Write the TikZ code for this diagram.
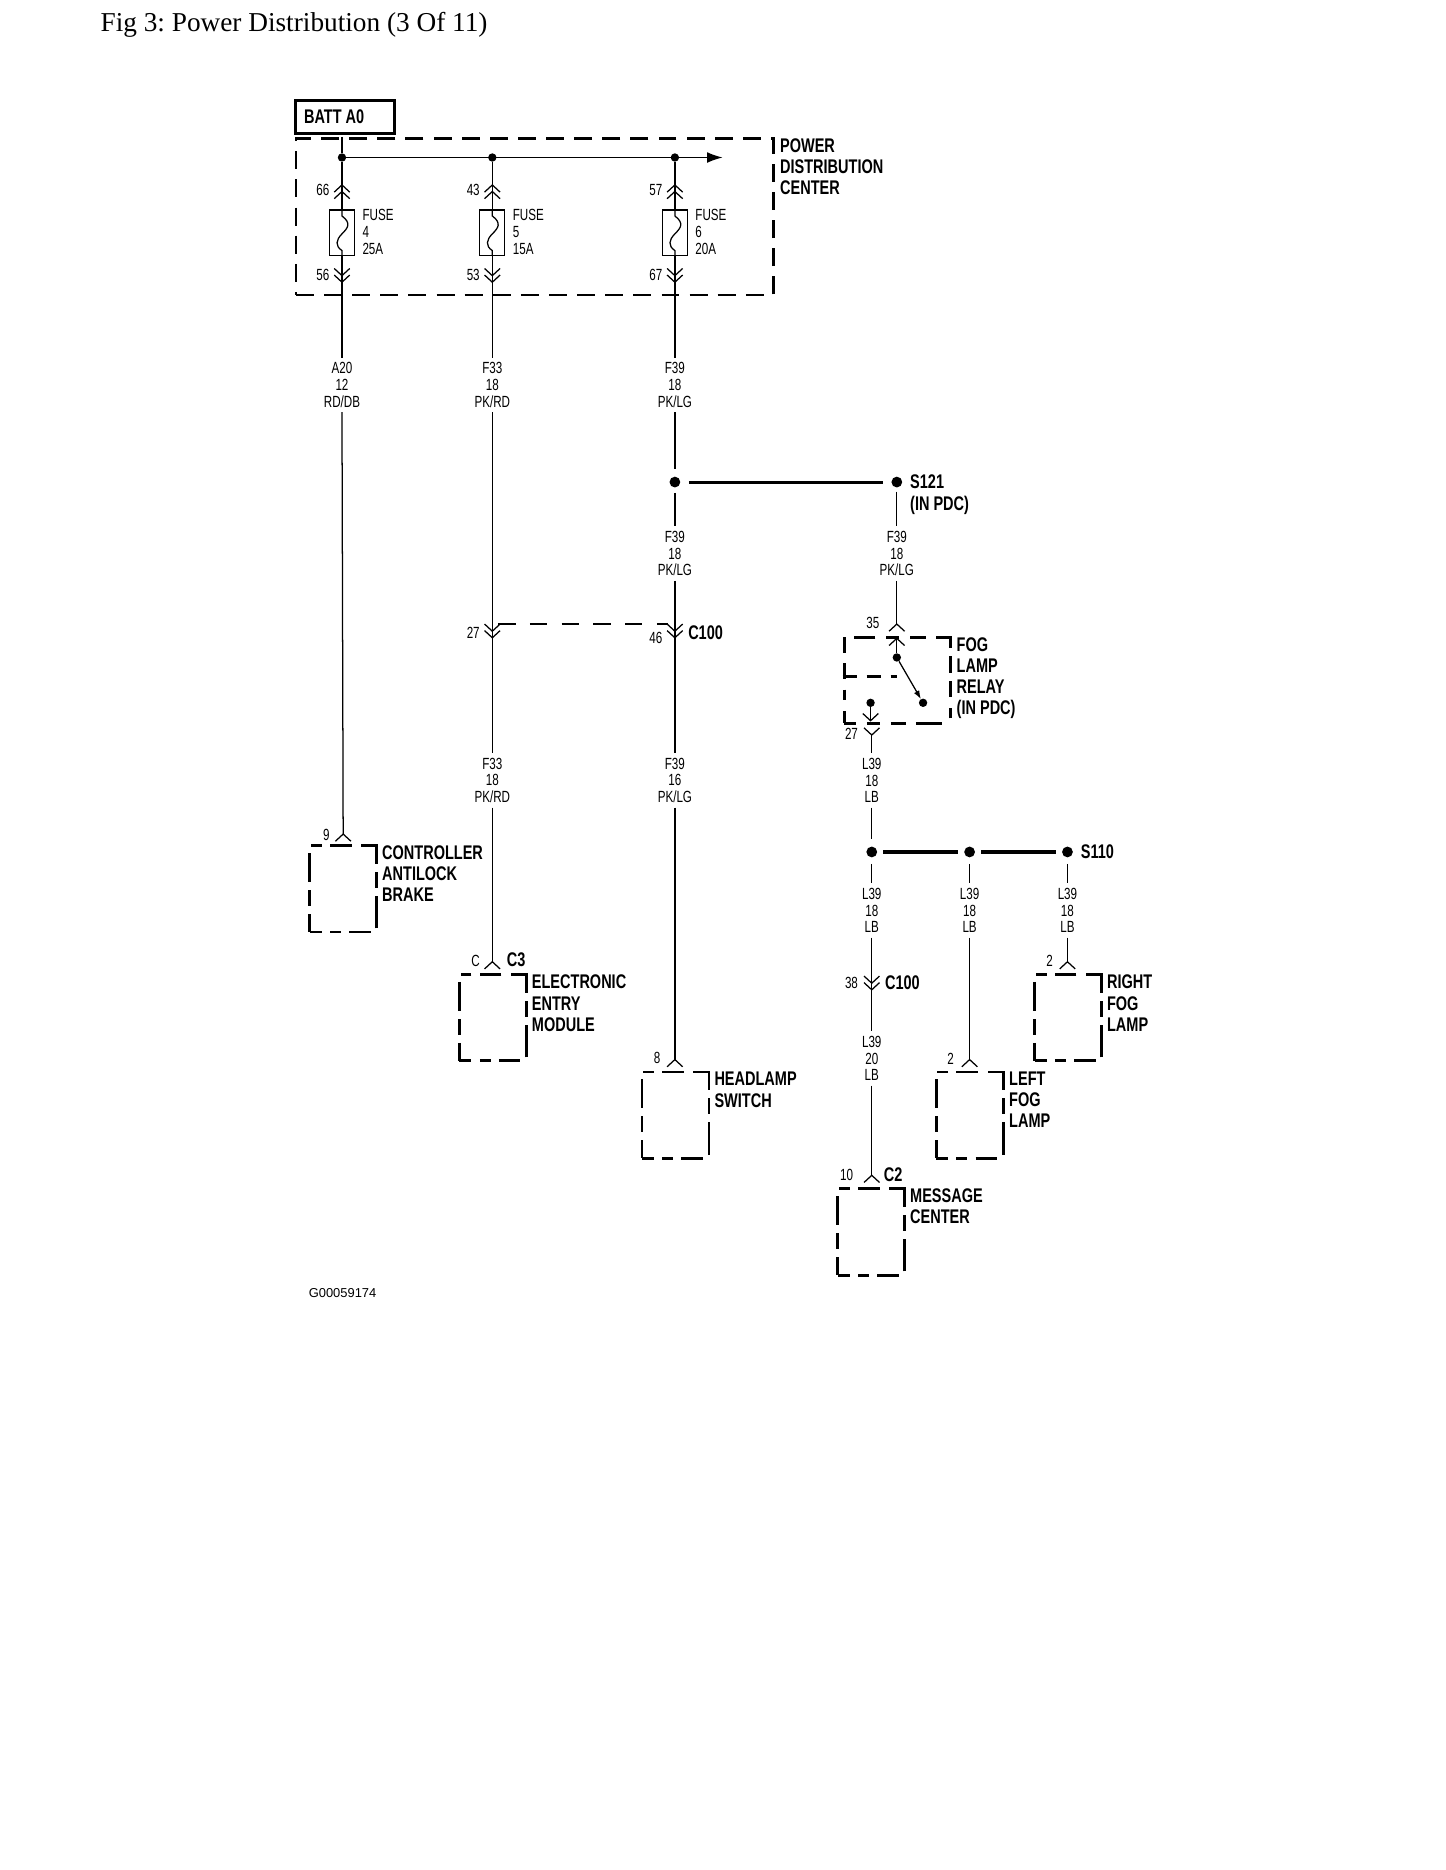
\documentclass[tikz,border=0pt]{standalone}
\usepackage{fontspec}
\usetikzlibrary{arrows.meta,positioning,calc}
\setmainfont{Liberation Sans}
\newfontfamily\titlefont{Liberation Serif}
\newfontfamily\smallfont[FakeStretch=0.72]{Liberation Sans}
\newfontfamily\bigfont[FakeStretch=0.735]{Liberation Sans Bold}

\tikzset{
  wire/.style={line width=1.05pt},
  thickwire/.style={line width=2.6pt},
  dashwire/.style={line width=1.4pt,dash pattern=on 14.5pt off 12pt},
  smalltxt/.style={font=\smallfont\fontsize{13.5}{14}\selectfont,inner sep=0pt},
  bigtxt/.style={font=\bigfont\fontsize{16.5}{17.7}\selectfont,inner sep=0pt,anchor=north west,align=left},
  wirelbl/.style={smalltxt,align=center,inner sep=1pt,outer sep=3pt},
  pinlbl/.style={smalltxt,anchor=center},
  wiredot/.style={circle,fill=black,inner sep=0pt,minimum size=7pt},
  bigdot/.style={circle,fill=black,inner sep=0pt,minimum size=9pt},
  fusebox/.style={draw,line width=1pt,inner sep=0pt,minimum width=21pt,minimum height=38pt},
  dashbox/.style={draw,line width=2.4pt,inner sep=0pt,dash pattern=on 15pt off 8.5pt},
  relaybox/.style={draw,line width=2.4pt,inner sep=0pt,minimum width=89pt,minimum height=72pt,
    dash pattern=on 10pt off 9pt on 11pt off 9pt on 13pt off 8pt on 22pt off 11pt on 9pt off 9pt on 13pt off 7pt on 14pt off 7pt on 21pt off 9pt on 13pt off 9pt on 11pt off 9pt on 18pt off 8pt on 13pt off 9pt on 13pt off 9pt on 9pt off 9pt on 10pt off 0pt},
  compbox/.style={draw,line width=2.4pt,inner sep=0pt,minimum width=56pt,minimum height=72pt,
    dash pattern=on 10pt off 7pt on 9pt off 7pt on 18pt off 8pt on 27pt off 7pt on 13pt off 7pt on 28pt off 8pt on 18pt off 7pt on 9pt off 7pt on 24pt off 7pt on 13pt off 7pt on 15pt off 0pt},
  pics/plugup/.style={code={\draw[wire] (-6.5,6) -- (0,0) -- (6.5,6);}},
  pics/plugdown/.style={code={\draw[wire] (-6.5,-6) -- (0,0) -- (6.5,-6);}},
}

\begin{document}
\frenchspacing
\begin{tikzpicture}[x=.9973pt,y=-.9973pt]
\useasboundingbox (-.6,0) rectangle (1210.7,1567.2);

\node [anchor=base west,inner sep=0pt,font=\titlefont\fontsize{22.8}{26}\selectfont] (title) at (83.5,26) {Fig 3: Power Distribution (3 Of 11)};

\node [draw,line width=2.2pt,minimum width=83pt,minimum height=28pt,inner sep=0pt] (batt) at (288.5,98) {};
\node [bigtxt,anchor=west] (battlbl) at (254,98) {BATT A0};

\node [dashbox,minimum width=399pt,minimum height=131pt] (pdc) at (447.5,181.5) {};
\node [bigtxt] (pdclbl) at (653,116) {POWER\\DISTRIBUTION\\CENTER};

% fuses
\foreach \i / \x / \f / \amp in {1/286/4/25A,2/412/5/15A,3/565/6/20A} {
  \node [wiredot] (bus\i) at (\x,132) {};
  \node [fusebox] (fuse\i) at (\x,195) {};
  \node [smalltxt,anchor=north west,align=left] (fuselbl\i) at (\x+17,175.5) {FUSE\\\f\\\amp};
  \draw [wire] (fuse\i.north) -- (\x,181) .. controls (\x+8,187) and (\x+5,191) .. (\x,196) .. controls (\x-5,201) and (\x-6,206) .. (\x,210) -- (fuse\i.south);
  \draw [wire] (bus\i) -- (fuse\i.north);
  \pic at (\x,155) {plugup};
  \pic at (\x,160.5) {plugup};
  \pic at (\x,231) {plugdown};
  \pic at (\x,236.5) {plugdown};
}
\coordinate (busend) at (605,132);
\draw [wire] (bus1 |- pdc.north) -- (bus1);
\draw [wire,-{Latex[length=13pt,width=9pt]}] (bus1) -- (busend);

% wire labels
\def\wires{w1/286/322.5/{A20\\12\\RD/DB},w2/412/322.5/{F33\\18\\PK/RD},w3/565/322.5/{F39\\18\\PK/LG},
  w4/565/464/{F39\\18\\PK/LG},w5/751/464/{F39\\18\\PK/LG},w6/412/654/{F33\\18\\PK/RD},
  w7/565/654/{F39\\16\\PK/LG},w8/730/654/{L39\\18\\LB},w9/730/763/{L39\\18\\LB},
  w10/812/763/{L39\\18\\LB},w11/894/763/{L39\\18\\LB},w12/730/887/{L39\\20\\LB}}
\foreach \n / \x / \y / \t in \wires
  \node [wirelbl] (\n) at (\x,\y) {\t};

% pin numbers
\def\pins{p1/270/159/66,p2/396/159/43,p3/549/159/57,p4/270/230/56,p5/396/230/53,p6/549/230/67,
  p7/396/530/27,p8/549/535/46,p9/731/522/35,p10/713/615/27,p11/273/700/9,p12/398/805/C,
  p13/550/887/8,p14/713/824/38,p15/796/887/2,p16/879/805/2,p17/709/985/10}
\foreach \n / \x / \y / \t in \pins
  \node [pinlbl] (\n) at (\x,\y) {\t};

\foreach \i in {1,2,3}
  \draw [wire] (fuse\i.south) -- (w\i.north);

% splices
\node [bigdot] (s1) at (565,404) {};
\node [bigdot] (s2) at (751,404) {};
\node [bigdot] (s3) at (730,714) {};
\node [bigdot] (s4) at (812,714) {};
\node [bigdot] (s5) at (894,714) {};
\draw [thickwire,shorten <=7pt,shorten >=7pt] (s1) -- (s2);
\draw [thickwire,shorten <=5pt,shorten >=5pt] (s3) -- (s4);
\draw [thickwire,shorten <=5pt,shorten >=5pt] (s4) -- (s5);
\node [bigtxt] (s121) at (762,398) {S121\\(IN PDC)};
\node [bigtxt,anchor=west] (s110) at (905,714) {S110};

\draw [wire] (w3.south) -- ++(0,48);
\draw [wire] (s1) ++(0,9) -- (w4.north);
\draw [wire] (s2) ++(0,8) -- (w5.north);
\foreach \s / \w in {s3/w9,s4/w10,s5/w11}
  \draw [wire] (\s) ++(0,10) -- (\w.north);
\draw [wire] (w8.south) -- ++(0,26);

% components
\node [compbox] (abs) at (287,745) {};
\node [compbox] (eem) at (412.5,853) {};
\node [compbox] (hsw) at (565.5,934.5) {};
\node [compbox] (rfog) at (894.5,853) {};
\node [compbox] (lfog) at (812,934.5) {};
\node [compbox] (msg) at (729.5,1032.5) {};
\node [bigtxt] (abslbl) at (319.5,708.5) {CONTROLLER\\ANTILOCK\\BRAKE};
\node [bigtxt] (eemlbl) at (445,817) {ELECTRONIC\\ENTRY\\MODULE};
\node [bigtxt] (hswlbl) at (598,898.5) {HEADLAMP\\SWITCH};
\node [bigtxt] (rfoglbl) at (927,817) {RIGHT\\FOG\\LAMP};
\node [bigtxt] (lfoglbl) at (845,898) {LEFT\\FOG\\LAMP};
\node [bigtxt] (msglbl) at (762,996) {MESSAGE\\CENTER};

\node [bigtxt] (c3) at (424,798) {C3};
\node [bigtxt] (c2) at (740,978) {C2};
\node [bigtxt] (c100a) at (576,524) {C100};
\node [bigtxt] (c100b) at (741,817.5) {C100};

% plugs into components
\coordinate (in1) at (287,699);
\coordinate (in2) at (412,806);
\coordinate (in3) at (565,888);
\coordinate (in4) at (894,806);
\coordinate (in5) at (812,888);
\coordinate (in6) at (730,985);
\foreach \c in {in1,in2,in3,in4,in5,in6}
  \pic at (\c) {plugup};
\draw [wire] (w1.south) -- (in1);
\draw [wire] (w6.south) -- (in2);
\draw [wire] (w7.south) -- (in3);
\draw [wire] (w11.south) -- (in4);
\draw [wire] (w10.south) -- (in5);
\draw [wire] (w12.south) -- (in6);

% c100
\coordinate (c1) at (412,529);
\coordinate (c2p) at (565,529);
\coordinate (c3p) at (730,824);
\foreach \c in {c1,c2p,c3p} {
  \pic at (\c) {plugdown};
  \pic at ($(\c)+(0,5.5)$) {plugdown};
}
\draw [wire] (w2.south) -- (w6.north);
\draw [wire] (w4.south) -- (w7.north);
\draw [wire] (w9.south) -- (w12.north);
\coordinate (ca) at (417,523);
\coordinate (cb) at (559,523);
\draw [dashwire] (ca) -- (cb);

% relay
\node [relaybox] (relay) at (751.5,570) {};
\node [bigtxt] (relaylbl) at (801,534) {FOG\\LAMP\\RELAY\\(IN PDC)};
\node [wiredot] (ra) at (751,551) {};
\node [wiredot] (rb) at (773,589) {};
\node [wiredot] (rc) at (729,589) {};
\coordinate (rd) at (729,604);
\coordinate (re) at (730,616);
\coordinate (rf) at (751,523);
\coordinate (rg) at (751,535);
\coordinate (rh) at (751,567);
\draw [wire] (w5.south) -- (rf);
\pic at (rf) {plugup};
\pic at (rg) {plugup};
\draw [wire] (ra) -- (rg);
\draw [wire,-{Latex[length=7pt,width=5pt]}] (ra) -- (rb);
\draw [line width=2.4pt,dash pattern=on 12pt off 8pt on 12pt off 8pt on 4pt off 0pt] (relay.west |- rh) -- (rh);
\draw [wire] (rc) -- (rd);
\pic at (rd) {plugdown};
\pic at (re) {plugdown};
\draw [wire] (re) -- (w8.north);

\node [anchor=west,inner sep=0pt,font=\fontsize{10.8}{12}\selectfont] (partno) at (258,1084) {G00059174};

\end{tikzpicture}
\end{document}
